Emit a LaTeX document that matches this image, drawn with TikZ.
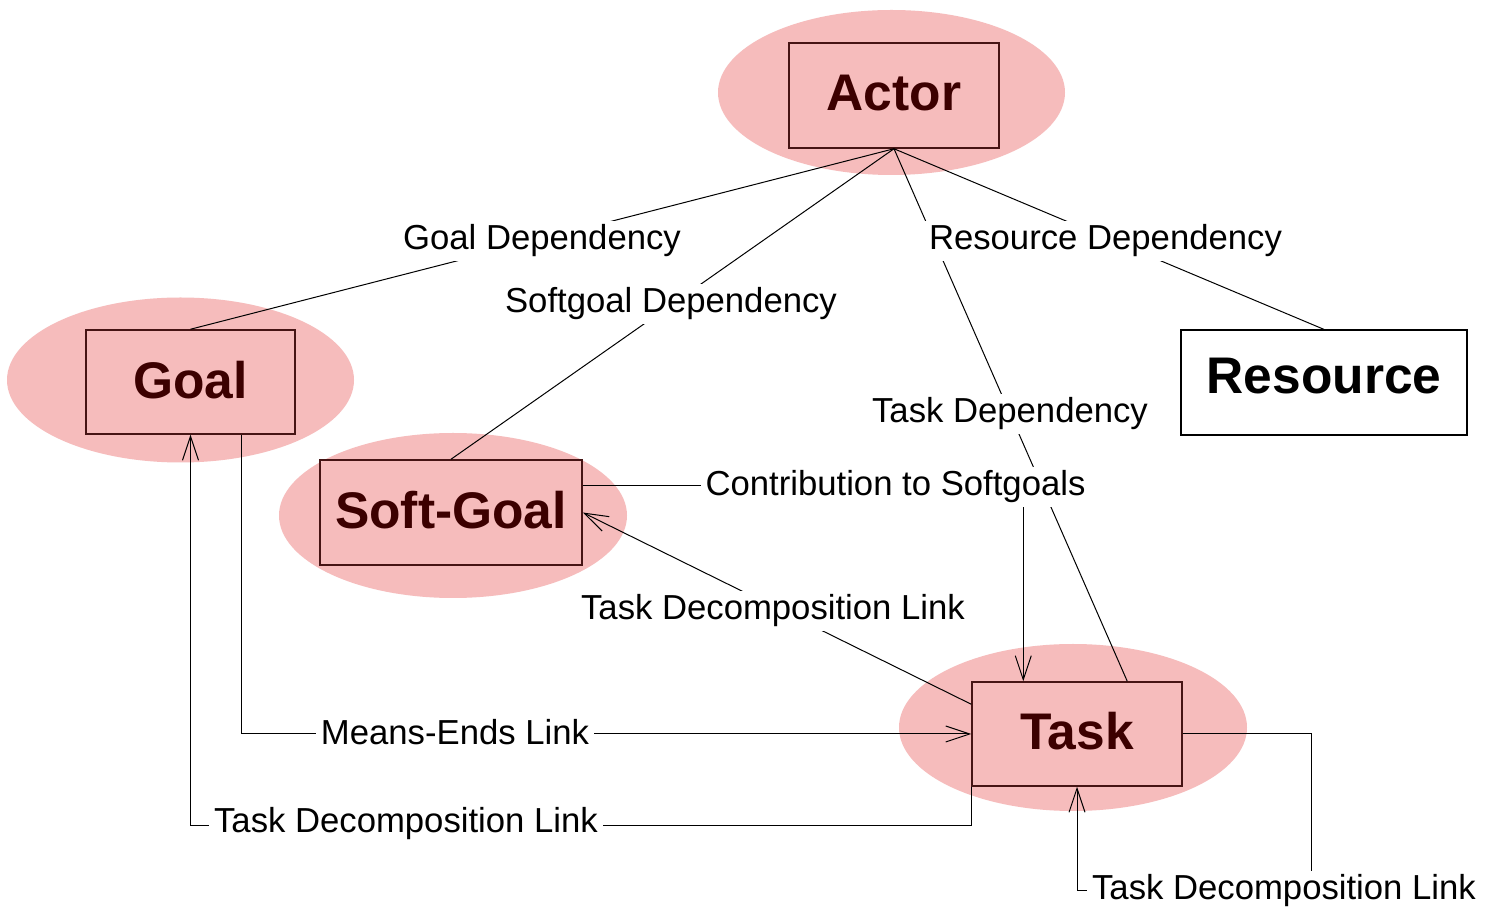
\documentclass[tikz,border=0pt]{standalone}
\usepackage{fontspec}
\setmainfont{Liberation Sans}
\usetikzlibrary{shapes.geometric,arrows.meta,calc}
\definecolor{pinkfill}{RGB}{246,188,188}
\definecolor{boxtext}{RGB}{60,0,0}
\definecolor{boxline}{RGB}{70,20,20}
\begin{document}
\begin{tikzpicture}[x=0.5pt,y=-0.5pt,
  halo/.style={ellipse, fill=pinkfill, draw=none, inner sep=0pt, minimum width=173.5pt, minimum height=82.5pt},
  ibox/.style={rectangle, draw=boxline, line width=0.75pt, inner sep=0pt, text=boxtext, font=\fontsize{25.75}{30}\selectfont\bfseries, text depth=2pt},
  link/.style={draw=black, line width=0.5pt},
  arr/.style={-{Straight Barb[length=12pt,width=8pt]}},
  lbl/.style={fill=white, inner xsep=2.5pt, inner ysep=2pt, font=\fontsize{17.35}{20}\selectfont, anchor=base}
]
\useasboundingbox (0,0) rectangle (1485,908);
\fill[white] (0,0) rectangle (1485,908);
% halos
\node[halo] (actorE) at (891.5,92.5) {};
\node[halo] (goalE) at (180.5,380) {};
\node[halo, minimum width=174pt] (softE) at (453,515.5) {};
\node[halo, minimum width=174pt, minimum height=83.5pt] (taskE) at (1073,727.5) {};
% boxes
\node[ibox, minimum width=105pt, minimum height=52.5pt, text height=17.5pt] (actor) at (894,95.5) {Actor};
\node[ibox, minimum width=104.5pt, minimum height=52pt, text height=19pt] (goal) at (190.5,382) {Goal};
\node[ibox, minimum width=131pt, minimum height=52.5pt, text height=18.5pt] (soft) at (451,512.5) {Soft-Goal};
\node[ibox, minimum width=105pt, minimum height=52pt, text height=18pt] (task) at (1077,734) {Task};
\node[ibox, draw=black, text=black, fill=white, line width=0.6pt, minimum width=143pt, minimum height=52.5pt, text height=13.5pt] (res) at (1324,382.5) {Resource};
% connectors
\draw[link] (actor.south) -- (goal.north);
\draw[link] (actor.south) -- (soft.north);
\draw[link] (actor.south) -- (res.north);
\draw[link] (actor.south) -- ($(task.north west)+(156,0)$);
\draw[link,arr] ($(soft.north east)+(0,26)$) -| ($(task.north west)+(52,0)$);
\draw[link,arr] ($(task.north west)+(0,23)$) -- (soft.east);
\draw[link,arr] ($(goal.south west)+(156,0)$) |- (task.west);
\draw[link,arr] (task.south west) -- ++(0,39) -| (goal.south);
\coordinate (brc) at (1311,891);
\draw[link,arr] (task.east) -| (brc) -| (task.south);
% labels
\node[lbl] (lgd) at (542,250) {Goal Dependency};
\node[lbl] (lsd) at (671,313) {Softgoal Dependency};
\node[lbl] (lrd) at (1105.5,250) {Resource Dependency};
\node[lbl] (ltd) at (1010,423) {Task Dependency};
\node[lbl] (lcs) at (895.5,496) {Contribution to Softgoals};
\node[lbl] (ltdm) at (773,620) {Task Decomposition Link};
\node[lbl] (lme) at (455,745) {Means-Ends Link};
\node[lbl] (ltdl) at (406,833) {Task Decomposition Link};
\node[lbl] (ltdr) at (1284,900) {Task Decomposition Link};
\end{tikzpicture}
\end{document}
